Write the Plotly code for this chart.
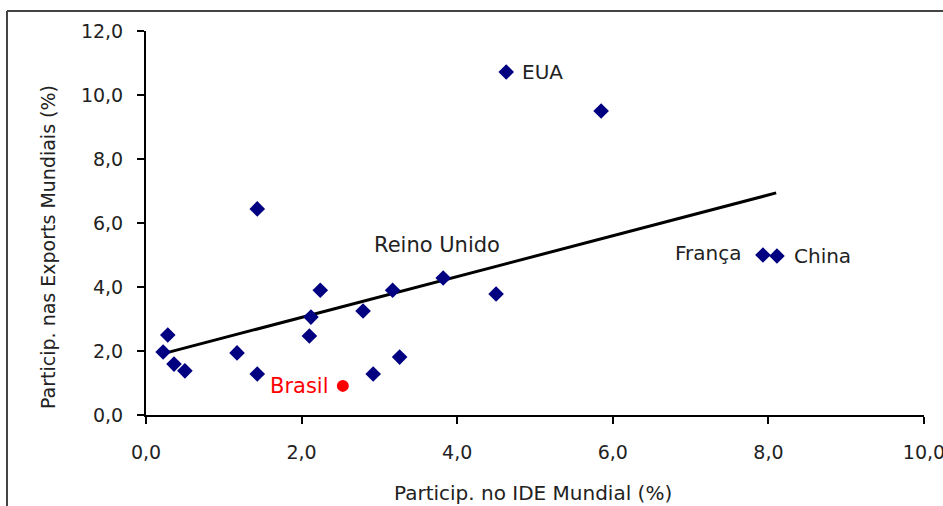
import plotly.graph_objects as go

# data
ide_share = [4.63, 5.85, 1.43, 2.24, 2.12, 2.10, 2.79, 3.17, 3.82, 4.50, 3.26, 2.92,
             0.28, 0.22, 0.36, 0.50, 1.17, 1.43, 7.93, 8.11]
export_share = [10.72, 9.50, 6.44, 3.90, 3.06, 2.47, 3.25, 3.90, 4.28, 3.78, 1.81, 1.28,
                2.50, 1.97, 1.59, 1.38, 1.94, 1.28, 5.00, 4.97]
brasil_x = [2.53]
brasil_y = [0.91]
trend_x = [0.21, 8.10]
trend_y = [1.91, 6.94]

labels = {"EUA": (4.63, 10.72), "Reino Unido": (3.82, 4.28), "França": (7.93, 5.00),
          "China": (8.11, 4.97)}

x_ticks = [0, 2, 4, 6, 8, 10]
y_ticks = [0, 2, 4, 6, 8, 10, 12]

FONT = "DejaVu Sans"

fig = go.Figure()
fig.add_trace(go.Scatter(x=trend_x, y=trend_y, mode="lines",
                         line=dict(color="black", width=3), hoverinfo="skip"))
fig.add_trace(go.Scatter(x=ide_share, y=export_share, mode="markers",
                         marker=dict(symbol="diamond", size=12, color="#000080")))
fig.add_trace(go.Scatter(x=brasil_x, y=brasil_y, mode="markers",
                         marker=dict(symbol="circle", size=12, color="#ff0000")))

ann_font = dict(family=FONT, size=20, color="#222")
fig.add_annotation(x=labels["EUA"][0], y=labels["EUA"][1], text="EUA", showarrow=False,
                   xanchor="left", yanchor="middle", xshift=14, font=ann_font)
fig.add_annotation(x=labels["Reino Unido"][0], y=labels["Reino Unido"][1], text="Reino Unido",
                   showarrow=False, xanchor="center", yanchor="middle", xshift=-6, yshift=33,
                   font=dict(family=FONT, size=21, color="#222"))
fig.add_annotation(x=labels["França"][0], y=labels["França"][1], text="França", showarrow=False,
                   xanchor="right", yanchor="middle", xshift=-20, yshift=2, font=ann_font)
fig.add_annotation(x=labels["China"][0], y=labels["China"][1], text="China", showarrow=False,
                   xanchor="left", yanchor="middle", xshift=15, font=ann_font)
fig.add_annotation(x=brasil_x[0], y=brasil_y[0], text="Brasil", showarrow=False,
                   xanchor="right", yanchor="middle", xshift=-12,
                   font=dict(family=FONT, size=21, color="#ff0000"))

# axis titles
fig.add_annotation(xref="paper", yref="paper", x=(533 - 146) / 778, y=(415 - 493) / 384,
                   text="Particip. no IDE Mundial (%)", showarrow=False,
                   xanchor="center", yanchor="middle", font=dict(family=FONT, size=20, color="#222"))
fig.add_annotation(xref="paper", yref="paper", x=(48 - 146) / 778, y=(415 - 247) / 384,
                   text="Particip. nas Exports Mundiais (%)", showarrow=False, textangle=-90,
                   xanchor="center", yanchor="middle", font=dict(family=FONT, size=19, color="#222"))

# outer frame (left and top)
fig.add_shape(type="line", xref="paper", yref="paper", x0=(7 - 146) / 778, x1=(7 - 146) / 778,
              y0=(415 - 11) / 384, y1=(415 - 520) / 384, line=dict(color="#444", width=2))
fig.add_shape(type="line", xref="paper", yref="paper", x0=(7 - 146) / 778, x1=(960 - 146) / 778,
              y0=(415 - 11) / 384, y1=(415 - 11) / 384, line=dict(color="#444", width=2))

axis_common = dict(showgrid=False, zeroline=False, showline=True, linecolor="black", linewidth=2,
                   ticks="outside", ticklen=7, tickwidth=2, tickcolor="black",
                   tickformat=".1f", tickfont=dict(family=FONT, size=19, color="#222"),
                   ticklabeloverflow="allow", automargin=False)
fig.update_xaxes(range=[0, 10], tickvals=x_ticks, ticklabelstandoff=12, **axis_common)
fig.update_yaxes(range=[0, 12], tickvals=y_ticks, ticklabelstandoff=10, **axis_common)

fig.update_layout(width=943, height=506,
                  margin=dict(l=146, r=943 - 924, t=31, b=506 - 415, autoexpand=False),
                  plot_bgcolor="white", paper_bgcolor="white", showlegend=False,
                  separators=",.", hovermode=False)

fig.write_html("out.html", config={"displayModeBar": False},
               post_script="document.body.style.margin='0';document.body.style.overflow='hidden';")
